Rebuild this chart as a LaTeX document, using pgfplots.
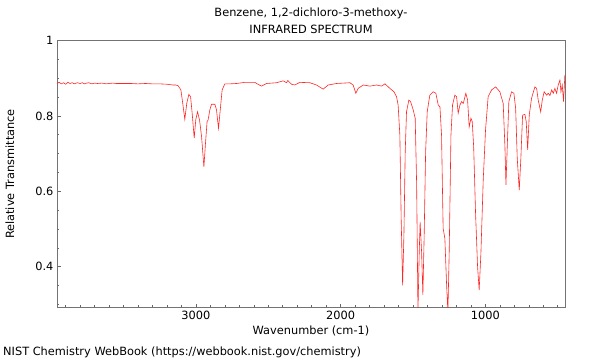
\documentclass[border=0pt]{standalone}
\usepackage{fontspec}
\setmainfont{DejaVu Sans}
\usepackage{pgfplots}
\pgfplotsset{compat=1.18}
\begin{document}
\begin{tikzpicture}[font=\fontsize{11.4}{13.5}\selectfont]
\useasboundingbox (-57bp,-52.5bp) rectangle (543bp,307.5bp);
\begin{axis}[
  at={(0,0)}, anchor=south west,
  width=508bp, height=267bp, scale only axis,
  x dir=reverse, xmin=450, xmax=3960, ymin=0.292, ymax=1,
  xtick={1000,2000,3000},
  minor xtick={500,600,700,800,900,1100,1200,1300,1400,1500,1600,1700,1800,1900,2100,2200,2300,2400,2500,2600,2700,2800,2900,3100,3200,3300,3400,3500,3600,3700,3800,3900},
  ytick={0.4,0.6,0.8,1},
  minor ytick={0.3,0.35,0.45,0.5,0.55,0.65,0.7,0.75,0.85,0.9,0.95},
  tick align=inside, xtick pos=bottom, ytick pos=left,
  axis line style={black!55, line width=0.8pt},
  major tick length=4bp, minor tick length=2.5bp,
  tick style={black!60, line width=0.6pt},
  ticklabel style={font=\fontsize{11.4}{13.5}\selectfont},
  /pgf/number format/assume math mode=true,
  xticklabel style={/pgf/number format/set thousands separator={}},
]
\addplot[red!85!white, line width=0.6pt] coordinates {
(3960,0.886) (3945,0.889) (3930,0.885) (3915,0.888) (3900,0.884) (3885,0.889) (3870,0.886)
(3855,0.888) (3840,0.885) (3820,0.888) (3800,0.886) (3785,0.888) (3770,0.885) (3755,0.887)
(3740,0.888) (3720,0.885) (3700,0.887) (3680,0.886) (3650,0.887) (3620,0.885) (3600,0.886)
(3575,0.887) (3550,0.886) (3500,0.886) (3450,0.886) (3400,0.885) (3350,0.886) (3300,0.885)
(3250,0.885) (3200,0.884) (3160,0.882) (3140,0.882) (3123,0.880) (3104,0.869) (3091,0.833)
(3077,0.791) (3063,0.834) (3049,0.857) (3037,0.851) (3026,0.807) (3012,0.741) (3001,0.790)
(2989,0.811) (2975,0.789) (2961,0.745) (2945,0.665) (2934,0.727) (2923,0.785) (2916,0.789)
(2904,0.816) (2892,0.831) (2869,0.831) (2858,0.816) (2844,0.767) (2830,0.824) (2819,0.869)
(2800,0.885) (2766,0.885) (2719,0.886) (2662,0.889) (2593,0.889) (2581,0.886) (2547,0.879)
(2512,0.886) (2443,0.888) (2397,0.893) (2374,0.888) (2365,0.894) (2356,0.890) (2339,0.884)
(2317,0.882) (2282,0.889) (2213,0.888) (2167,0.882) (2121,0.871) (2086,0.882) (2028,0.886)
(1936,0.888) (1914,0.882) (1895,0.860) (1879,0.873) (1844,0.882) (1798,0.879) (1752,0.882)
(1717,0.879) (1694,0.885) (1660,0.873) (1632,0.864) (1614,0.851) (1603,0.829) (1591,0.749)
(1582,0.529) (1572,0.351) (1563,0.484) (1554,0.705) (1545,0.811) (1529,0.842) (1517,0.838)
(1499,0.816) (1485,0.794) (1475,0.617) (1466,0.280) (1457,0.440) (1451,0.519) (1441,0.440)
(1432,0.325) (1423,0.484) (1413,0.705) (1402,0.811) (1384,0.855) (1361,0.864) (1342,0.860)
(1326,0.829) (1314,0.824) (1303,0.749) (1292,0.502) (1280,0.475) (1268,0.351) (1259,0.280)
(1250,0.440) (1238,0.749) (1227,0.829) (1211,0.855) (1199,0.851) (1188,0.807) (1176,0.829)
(1164,0.838) (1153,0.833) (1135,0.860) (1123,0.842) (1112,0.771) (1100,0.794) (1091,0.785)
(1081,0.718) (1068,0.542) (1054,0.400) (1043,0.338) (1031,0.436) (1015,0.630) (999,0.763)
(981,0.851) (957,0.869) (929,0.877) (900,0.864) (877,0.833) (865,0.718) (858,0.617)
(849,0.718) (838,0.838) (819,0.864) (803,0.860) (791,0.820) (780,0.688) (766,0.603)
(755,0.688) (743,0.802) (727,0.804) (718,0.785) (708,0.710) (697,0.802) (681,0.847)
(658,0.877) (646,0.873) (635,0.842) (618,0.811) (607,0.842) (594,0.864) (577,0.855)
(566,0.860) (554,0.854) (542,0.869) (531,0.860) (520,0.873) (508,0.860) (497,0.882)
(485,0.895) (478,0.864) (469,0.882) (460,0.838) (451,0.908)
};
\end{axis}
\node at (254bp,294.5bp) {Benzene, 1,2-dichloro-3-methoxy-};
\node at (254bp,278.5bp) {INFRARED SPECTRUM};
\node at (254bp,-23.5bp) {Wavenumber (cm-1)};
\node[rotate=90] at (-47bp,133.5bp) {Relative Transmittance};
\node[anchor=west, inner sep=0pt] at (-54bp,-44.5bp) {NIST Chemistry WebBook (https://webbook.nist.gov/chemistry)};
\end{tikzpicture}
\end{document}
